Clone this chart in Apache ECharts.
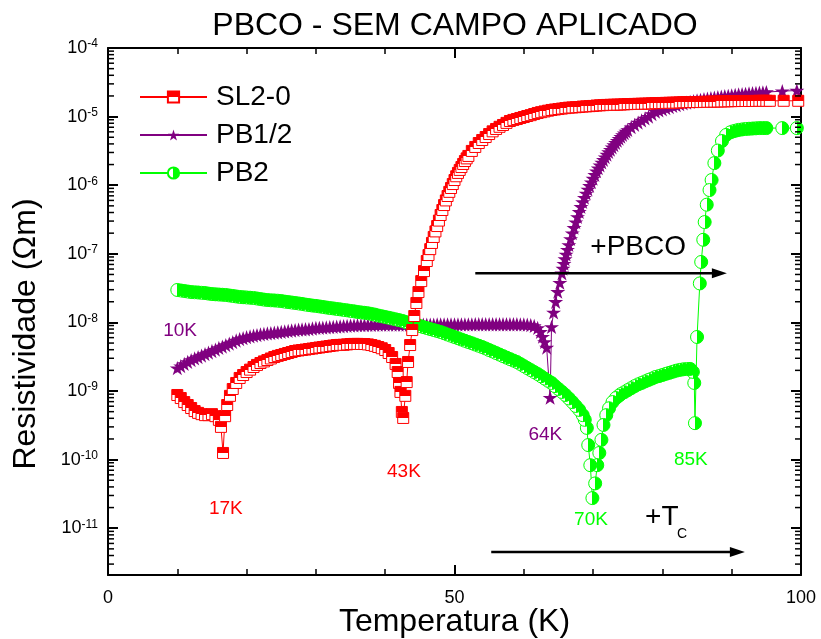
<!DOCTYPE html>
<html>
<head>
<meta charset="utf-8">
<script src="https://cdn.jsdelivr.net/npm/echarts@6/dist/echarts.min.js"></script>
<style>
  html, body { margin: 0; padding: 0; background: #fff; }
  #chart { width: 821px; height: 639px; }
</style>
</head>
<body>
<div id="chart"></div>
<script>
// Resistivity vs temperature, zero applied field, three PBCO samples.
const FONT = '"Liberation Sans", Arial, Helvetica, sans-serif';

const seriesNames = ['SL2-0', 'PB1/2', 'PB2'];
const RED = '#ff0000';
const PURPLE = '#800080';
const GREEN = '#00ff00';

// [T (K), resistivity (Ohm m)]
const sl20 = [
  [10.0,8.75e-10],[10.5,7.9e-10],[11.0,6.9e-10],[11.5,6.25e-10],[12.0,5.65e-10],[12.5,5.1e-10],[13.0,4.8e-10],[13.5,4.6e-10],
  [14.0,4.45e-10],[14.5,4.45e-10],[15.0,4.6e-10],[15.5,4.3e-10],[16.0,3.8e-10],[16.3,3.0e-10],[16.6,1.25e-10],[16.9,4.3e-10],
  [17.2,6.25e-10],[17.6,8.5e-10],[18.0,1.07e-9],[18.5,1.31e-9],[19.0,1.55e-9],[19.5,1.71e-9],[20.0,1.89e-9],[20.5,2.05e-9],
  [21.0,2.24e-9],[21.5,2.4e-9],[22.0,2.56e-9],[22.5,2.7e-9],[23.0,2.83e-9],[23.5,2.98e-9],[24.0,3.13e-9],[24.5,3.25e-9],
  [25.0,3.35e-9],[25.5,3.47e-9],[26.0,3.58e-9],[26.5,3.7e-9],[27.0,3.83e-9],[27.5,3.9e-9],[28.0,3.96e-9],[28.5,4.02e-9],
  [29.0,4.09e-9],[29.5,4.16e-9],[30.0,4.24e-9],[30.5,4.31e-9],[31.0,4.38e-9],[31.5,4.45e-9],[32.0,4.53e-9],[32.5,4.6e-9],
  [33.0,4.68e-9],[33.5,4.7e-9],[34.0,4.72e-9],[34.5,4.78e-9],[35.0,4.84e-9],[35.5,4.86e-9],[36.0,4.86e-9],[36.5,4.85e-9],
  [37.0,4.84e-9],[37.5,4.78e-9],[38.0,4.68e-9],[38.5,4.55e-9],[39.0,4.38e-9],[39.5,4.2e-9],[40.0,3.96e-9],[40.5,3.58e-9],
  [41.0,3.13e-9],[41.5,2.48e-9],[41.8,1.89e-9],[42.0,1.31e-9],[42.2,9.7e-10],[42.4,4.95e-10],[42.6,4.05e-10],[42.9,8.5e-10],
  [43.1,1.35e-9],[43.3,2.65e-9],[43.6,4.68e-9],[43.9,7.74e-9],[44.2,1.24e-8],[44.5,1.92e-8],[44.8,2.77e-8],[45.2,4.0e-8],
  [45.6,5.6e-8],[46.0,7.85e-8],[46.25,9.6e-8],[46.5,1.17e-7],[46.75,1.44e-7],[47.0,1.76e-7],[47.25,2.12e-7],[47.5,2.54e-7],
  [47.75,3.05e-7],[48.0,3.68e-7],[48.25,4.35e-7],[48.5,5.14e-7],[48.75,6.0e-7],[49.0,6.96e-7],[49.25,8.0e-7],[49.5,9.1e-7],
  [49.75,1.04e-6],[50.0,1.19e-6],[50.25,1.35e-6],[50.5,1.51e-6],[50.75,1.67e-6],[51.0,1.84e-6],[51.25,2.04e-6],[51.5,2.25e-6],
  [51.75,2.46e-6],[52.0,2.67e-6],[52.5,3.16e-6],[53.0,3.61e-6],[53.5,4.12e-6],[54.0,4.56e-6],[54.5,5.04e-6],[55.0,5.57e-6],
  [55.5,6.1e-6],[56.0,6.6e-6],[56.5,7.1e-6],[57.0,7.55e-6],[57.5,8.1e-6],[58.0,8.63e-6],[58.5,8.95e-6],[59.0,9.22e-6],
  [59.5,9.55e-6],[60.0,9.86e-6],[60.5,1.02e-5],[61.0,1.05e-5],[61.5,1.09e-5],[62.0,1.13e-5],[62.5,1.16e-5],[63.0,1.19e-5],
  [63.5,1.22e-5],[64.0,1.25e-5],[64.5,1.27e-5],[65.0,1.29e-5],[65.5,1.31e-5],[66.0,1.33e-5],[66.5,1.35e-5],[67.0,1.36e-5],
  [67.5,1.37e-5],[68.0,1.38e-5],[68.5,1.4e-5],[69.0,1.41e-5],[69.5,1.42e-5],[70.0,1.43e-5],[70.5,1.45e-5],[71.0,1.46e-5],
  [71.5,1.47e-5],[72.0,1.48e-5],[72.5,1.485e-5],[73.0,1.49e-5],[73.5,1.495e-5],[74.0,1.5e-5],[74.5,1.51e-5],[75.0,1.52e-5],
  [75.5,1.525e-5],[76.0,1.53e-5],[76.5,1.535e-5],[77.0,1.54e-5],[77.5,1.545e-5],[78.0,1.55e-5],[78.5,1.56e-5],[79.0,1.57e-5],
  [79.5,1.575e-5],[80.0,1.58e-5],[80.5,1.585e-5],[81.0,1.59e-5],[81.5,1.595e-5],[82.0,1.6e-5],[82.5,1.61e-5],[83.0,1.62e-5],
  [83.5,1.625e-5],[84.0,1.63e-5],[84.5,1.63e-5],[85.0,1.63e-5],[85.5,1.635e-5],[86.0,1.64e-5],[86.5,1.645e-5],[87.0,1.65e-5],
  [87.5,1.655e-5],[88.0,1.66e-5],[88.5,1.665e-5],[89.0,1.67e-5],[89.5,1.675e-5],[90.0,1.68e-5],[90.5,1.685e-5],[91.0,1.69e-5],
  [91.5,1.69e-5],[92.0,1.69e-5],[92.5,1.69e-5],[93.0,1.69e-5],[93.5,1.695e-5],[94.0,1.7e-5],[94.5,1.7e-5],[95.0,1.7e-5],
  [95.5,1.7e-5],[97.5,1.7e-5],[99.6,1.7e-5]
];

const pb12 = [
  [10.0,2.16e-9],[10.5,2.31e-9],[11.0,2.48e-9],[11.5,2.65e-9],[12.0,2.83e-9],[12.5,2.98e-9],[13.0,3.13e-9],[13.5,3.29e-9],
  [14.0,3.46e-9],[14.5,3.64e-9],[15.0,3.83e-9],[15.5,4.02e-9],[16.0,4.24e-9],[16.5,4.45e-9],[17.0,4.68e-9],[17.5,4.92e-9],
  [18.0,5.17e-9],[18.5,5.45e-9],[19.0,5.72e-9],[19.5,5.9e-9],[20.0,6.1e-9],[20.5,6.25e-9],[21.0,6.4e-9],[21.5,6.55e-9],
  [22.0,6.7e-9],[22.5,6.8e-9],[23.0,6.9e-9],[23.5,7.0e-9],[24.0,7.1e-9],[24.5,7.18e-9],[25.0,7.25e-9],[25.5,7.38e-9],
  [26.0,7.5e-9],[26.5,7.62e-9],[27.0,7.74e-9],[27.5,7.82e-9],[28.0,7.9e-9],[28.5,7.95e-9],[29.0,8.0e-9],[29.5,8.15e-9],
  [30.0,8.3e-9],[30.5,8.35e-9],[31.0,8.4e-9],[31.5,8.48e-9],[32.0,8.55e-9],[32.5,8.62e-9],[33.0,8.7e-9],[33.5,8.78e-9],
  [34.0,8.85e-9],[34.5,8.92e-9],[35.0,9.0e-9],[35.5,9.05e-9],[36.0,9.1e-9],[36.5,9.12e-9],[37.0,9.15e-9],[37.5,9.18e-9],
  [38.0,9.2e-9],[38.5,9.22e-9],[39.0,9.25e-9],[39.5,9.28e-9],[40.0,9.3e-9],[40.5,9.3e-9],[41.0,9.3e-9],[41.5,9.3e-9],
  [42.0,9.3e-9],[42.5,9.3e-9],[43.0,9.3e-9],[43.5,9.3e-9],[44.0,9.3e-9],[44.5,9.3e-9],[45.0,9.3e-9],[45.5,9.3e-9],
  [46.0,9.3e-9],[46.5,9.3e-9],[47.0,9.3e-9],[47.5,9.32e-9],[48.0,9.35e-9],[48.5,9.35e-9],[49.0,9.35e-9],[49.5,9.35e-9],
  [50.0,9.35e-9],[50.5,9.35e-9],[51.0,9.35e-9],[51.5,9.35e-9],[52.0,9.35e-9],[52.5,9.38e-9],[53.0,9.4e-9],[53.5,9.4e-9],
  [54.0,9.4e-9],[54.5,9.4e-9],[55.0,9.4e-9],[55.5,9.4e-9],[56.0,9.4e-9],[56.5,9.4e-9],[57.0,9.4e-9],[57.5,9.4e-9],
  [58.0,9.4e-9],[58.5,9.4e-9],[59.0,9.4e-9],[59.5,9.38e-9],[60.0,9.35e-9],[60.5,9.3e-9],[61.0,9.15e-9],[61.5,8.9e-9],
  [62.0,8.3e-9],[62.4,7.3e-9],[62.7,6.2e-9],[63.0,5.2e-9],[63.3,4.3e-9],[63.8,8.0e-10],[64.0,8.6e-9],[64.3,1.4e-8],
  [64.6,2.0e-8],[64.9,2.8e-8],[65.2,3.8e-8],[65.5,5.2e-8],[65.65,6.1e-8],[65.8,7.2e-8],[65.95,8.4e-8],[66.1,9.8e-8],
  [66.3,1.15e-7],[66.5,1.35e-7],[66.75,1.65e-7],[67.0,2.0e-7],[67.25,2.4e-7],[67.5,2.9e-7],[67.75,3.45e-7],[68.0,4.1e-7],
  [68.25,4.85e-7],[68.5,5.7e-7],[68.75,6.6e-7],[69.0,7.6e-7],[69.25,8.7e-7],[69.5,9.8e-7],[69.75,1.11e-6],[70.0,1.25e-6],
  [70.25,1.42e-6],[70.5,1.6e-6],[70.75,1.77e-6],[71.0,1.95e-6],[71.25,2.15e-6],[71.5,2.35e-6],[71.75,2.57e-6],[72.0,2.8e-6],
  [72.25,3.05e-6],[72.5,3.3e-6],[72.75,3.57e-6],[73.0,3.85e-6],[73.25,4.15e-6],[73.5,4.45e-6],[73.75,4.77e-6],[74.0,5.1e-6],
  [74.25,5.42e-6],[74.5,5.75e-6],[74.75,6.07e-6],[75.0,6.4e-6],[75.5,7.0e-6],[76.0,7.6e-6],[76.5,8.2e-6],[77.0,8.8e-6],
  [77.5,9.4e-6],[78.0,1.0e-5],[78.5,1.09e-5],[79.0,1.18e-5],[79.5,1.23e-5],[80.0,1.28e-5],[80.5,1.33e-5],[81.0,1.38e-5],
  [81.5,1.43e-5],[82.0,1.47e-5],[82.5,1.52e-5],[83.0,1.56e-5],[83.5,1.6e-5],[84.0,1.64e-5],[84.5,1.68e-5],[85.0,1.72e-5],
  [85.5,1.76e-5],[86.0,1.79e-5],[86.5,1.83e-5],[87.0,1.86e-5],[87.5,1.89e-5],[88.0,1.92e-5],[88.5,1.95e-5],[89.0,1.98e-5],
  [89.5,2.01e-5],[90.0,2.04e-5],[90.5,2.07e-5],[91.0,2.1e-5],[91.5,2.13e-5],[92.0,2.15e-5],[92.5,2.18e-5],[93.0,2.2e-5],
  [93.5,2.22e-5],[94.0,2.24e-5],[94.5,2.26e-5],[95.0,2.28e-5],[97.3,2.35e-5],[99.4,2.4e-5]
];

const pb2 = [
  [10.0,2.97e-8],[10.5,2.92e-8],[11.0,2.87e-8],[11.5,2.82e-8],[12.0,2.77e-8],[12.5,2.75e-8],[13.0,2.73e-8],[13.5,2.7e-8],
  [14.0,2.68e-8],[14.5,2.63e-8],[15.0,2.59e-8],[15.5,2.57e-8],[16.0,2.55e-8],[16.5,2.53e-8],[17.0,2.51e-8],[17.5,2.47e-8],
  [18.0,2.43e-8],[18.5,2.39e-8],[19.0,2.35e-8],[19.5,2.33e-8],[20.0,2.31e-8],[20.5,2.29e-8],[21.0,2.27e-8],[21.5,2.23e-8],
  [22.0,2.19e-8],[22.5,2.15e-8],[23.0,2.12e-8],[23.5,2.1e-8],[24.0,2.09e-8],[24.5,2.07e-8],[25.0,2.05e-8],[25.5,2.01e-8],
  [26.0,1.98e-8],[26.5,1.95e-8],[27.0,1.92e-8],[27.5,1.89e-8],[28.0,1.86e-8],[28.5,1.82e-8],[29.0,1.79e-8],[29.5,1.76e-8],
  [30.0,1.74e-8],[30.5,1.71e-8],[31.0,1.68e-8],[31.5,1.65e-8],[32.0,1.62e-8],[32.5,1.6e-8],[33.0,1.57e-8],[33.5,1.55e-8],
  [34.0,1.52e-8],[34.5,1.5e-8],[35.0,1.47e-8],[35.5,1.45e-8],[36.0,1.42e-8],[36.5,1.4e-8],[37.0,1.38e-8],[37.5,1.36e-8],
  [38.0,1.33e-8],[38.5,1.3e-8],[39.0,1.26e-8],[39.5,1.23e-8],[40.0,1.2e-8],[40.5,1.17e-8],[41.0,1.14e-8],[41.5,1.11e-8],
  [42.0,1.08e-8],[42.5,1.05e-8],[43.0,1.01e-8],[43.5,9.8e-9],[44.0,9.5e-9],[44.5,9.2e-9],[45.0,8.86e-9],[45.5,8.55e-9],
  [46.0,8.27e-9],[46.5,8.0e-9],[47.0,7.74e-9],[47.5,7.5e-9],[48.0,7.24e-9],[48.5,6.95e-9],[49.0,6.66e-9],[49.5,6.4e-9],
  [50.0,6.13e-9],[50.5,5.88e-9],[51.0,5.63e-9],[51.5,5.4e-9],[52.0,5.18e-9],[52.5,4.97e-9],[53.0,4.76e-9],[53.5,4.57e-9],
  [54.0,4.38e-9],[54.5,4.17e-9],[55.0,3.96e-9],[55.5,3.77e-9],[56.0,3.58e-9],[56.5,3.4e-9],[57.0,3.23e-9],[57.5,3.07e-9],
  [58.0,2.92e-9],[58.5,2.78e-9],[59.0,2.65e-9],[59.5,2.48e-9],[60.0,2.31e-9],[60.5,2.16e-9],[61.0,2.02e-9],[61.5,1.89e-9],
  [62.0,1.77e-9],[62.5,1.64e-9],[63.0,1.52e-9],[63.5,1.41e-9],[64.0,1.31e-9],[64.5,1.18e-9],[65.0,1.07e-9],[65.5,9.7e-10],
  [66.0,8.75e-10],[66.5,7.8e-10],[67.0,6.9e-10],[67.5,6.05e-10],[68.0,5.3e-10],[68.5,4.45e-10],[68.8,3.8e-10],[69.1,2.9e-10],
  [69.3,1.63e-10],[69.6,8.3e-11],[69.9,2.75e-11],[70.3,4.5e-11],[70.6,8.3e-11],[70.9,1.25e-10],[71.2,1.94e-10],[71.5,3.2e-10],
  [71.9,4.45e-10],[72.3,5.6e-10],[72.8,6.9e-10],[73.3,7.9e-10],[73.7,8.5e-10],[74.0,9.0e-10],[74.5,9.6e-10],[75.0,1.03e-9],
  [75.5,1.1e-9],[76.0,1.18e-9],[76.5,1.25e-9],[77.0,1.31e-9],[77.5,1.38e-9],[78.0,1.45e-9],[78.5,1.52e-9],[79.0,1.6e-9],
  [79.5,1.65e-9],[80.0,1.71e-9],[80.5,1.78e-9],[81.0,1.84e-9],[81.5,1.91e-9],[82.0,1.98e-9],[82.5,2.03e-9],[83.0,2.07e-9],
  [83.5,2.09e-9],[84.0,2.1e-9],[84.4,1.9e-9],[84.6,1.31e-9],[84.7,3.4e-10],[85.0,6.13e-9],[85.4,3.7e-8],[85.6,7.6e-8],
  [85.9,1.6e-7],[86.1,2.9e-7],[86.4,5.2e-7],[86.8,8.5e-7],[87.1,1.19e-6],[87.5,2.1e-6],[88.0,3.2e-6],[88.6,4.4e-6],
  [89.2,5.4e-6],[89.8,5.9e-6],[90.2,6.1e-6],[90.6,6.25e-6],[91.0,6.4e-6],[91.5,6.5e-6],[92.0,6.6e-6],[92.5,6.65e-6],
  [93.0,6.7e-6],[93.5,6.75e-6],[94.0,6.8e-6],[94.5,6.8e-6],[95.0,6.8e-6],[97.3,6.8e-6],[99.4,6.8e-6]
];

// Axis ranges
const X_MIN = 0, X_MAX = 100, X_LABEL_STEP = 50;
const Y_MIN = 2.08e-12, Y_MAX = 1e-4;

// Temperature call-outs near each dip: [T, rho]
const dipLabels = [
  { text: '10K', color: PURPLE, at: [10.4, 7.5e-9] },
  { text: '17K', color: RED,    at: [17.0, 1.9e-11] },
  { text: '43K', color: RED,    at: [42.7, 6.6e-11] },
  { text: '64K', color: PURPLE, at: [63.1, 2.29e-10] },
  { text: '70K', color: GREEN,  at: [69.7, 1.32e-11] },
  { text: '85K', color: GREEN,  at: [84.1, 9.9e-11] }
];
const arrowNotes = [
  { text: '+PBCO', textAt: [76.5, 1.26e-7], from: [53.0, 5.2e-8], to: [89.3, 5.2e-8] },
  { text: '+T', sub: 'C', textAt: [77.5, 1.45e-11], from: [55.3, 4.5e-12], to: [91.9, 4.5e-12] }
];

const STAR = 'path://M0,-1L0.2245,-0.309L0.951,-0.309L0.363,0.118L0.588,0.809L0,0.382L-0.588,0.809L-0.363,0.118L-0.951,-0.309L-0.2245,-0.309Z';

const halfSquare = new echarts.graphic.LinearGradient(0, 0, 0, 1, [
  { offset: 0, color: RED }, { offset: 0.5, color: RED },
  { offset: 0.5, color: '#ffffff' }, { offset: 1, color: '#ffffff' }
]);
const halfCircle = new echarts.graphic.LinearGradient(0, 0, 1, 0, [
  { offset: 0, color: '#ffffff' }, { offset: 0.5, color: '#ffffff' },
  { offset: 0.5, color: GREEN }, { offset: 1, color: GREEN }
]);

// minor ticks of the log axis at 2..9 x 10^n
const minorTickValues = [];
for (let e = -12; e <= -5; e++) {
  for (let m = 2; m <= 9; m++) {
    const v = m * Math.pow(10, e);
    if (v > Y_MIN && v < Y_MAX) minorTickValues.push(v);
  }
}

function powLabel(v) {
  const e = Math.log10(v);
  const r = Math.round(e);
  if (Math.abs(e - r) > 1e-3) return '';
  return '{b|10}{s|' + r + '}';
}

const yAxisBase = {
  type: 'log',
  logBase: 10,
  min: Y_MIN,
  max: Y_MAX,
  axisLine: { show: true, onZero: false, lineStyle: { color: '#000', width: 2 } },
  axisTick: { show: true, inside: true, length: 10, lineStyle: { color: '#000', width: 2 } },
  splitLine: { show: false },
  minorTick: { show: false },
  minorSplitLine: { show: false }
};

const xAxisBase = {
  type: 'value',
  min: X_MIN,
  max: X_MAX,
  interval: X_LABEL_STEP,
  axisLine: { show: true, onZero: false, lineStyle: { color: '#000', width: 2 } },
  axisTick: { show: true, inside: true, length: 10, lineStyle: { color: '#000', width: 2 } },
  minorTick: { show: true, splitNumber: 5, length: 6, lineStyle: { color: '#000', width: 1.5 } },
  splitLine: { show: false },
  minorSplitLine: { show: false }
};

function lineSeries(name, data, color, symbol, size, fill, z) {
  return {
    name: name,
    type: 'line',
    data: data,
    z: z,
    symbol: symbol,
    symbolSize: size,
    symbolKeepAspect: true,
    showSymbol: true,
    showAllSymbol: true,
    lineStyle: { color: color, width: 1 },
    itemStyle: fill
      ? { color: fill, borderColor: color, borderWidth: 1 }
      : { color: color, borderWidth: 0 },
    emphasis: { disabled: true },
    animation: false
  };
}

const option = {
  animation: false,
  backgroundColor: '#ffffff',
  textStyle: { fontFamily: FONT },
  title: {
    text: 'PBCO - SEM CAMPO APLICADO',
    left: 455,
    textAlign: 'center',
    top: 10,
    padding: 0,
    textStyle: { fontFamily: FONT, fontSize: 32, fontWeight: 'normal', color: '#000' }
  },
  legend: {
    data: seriesNames,
    orient: 'vertical',
    left: 139,
    top: 82,
    itemWidth: 67,
    itemHeight: 14,
    itemGap: 8,
    padding: 0,
    textStyle: { fontFamily: FONT, fontSize: 28, color: '#000', lineHeight: 30, padding: [0, 0, 0, 4] },
    selectedMode: false
  },
  grid: { left: 108, right: 20, top: 48, bottom: 64, containLabel: false, outerBoundsMode: 'none' },
  xAxis: [
    Object.assign({}, xAxisBase, {
      position: 'bottom',
      axisLabel: { fontFamily: FONT, fontSize: 18, color: '#000', margin: 14 },
      name: 'Temperatura (K)',
      nameLocation: 'middle',
      nameGap: 31,
      nameMoveOverlap: false,
      nameTextStyle: { fontFamily: FONT, fontSize: 32, color: '#000' }
    }),
    Object.assign({}, xAxisBase, {
      position: 'top',
      axisLabel: { show: false }
    })
  ],
  yAxis: [
    Object.assign({}, yAxisBase, {
      position: 'left',
      axisLabel: {
        formatter: powLabel,
        margin: 10,
        rich: {
          b: { fontFamily: FONT, fontSize: 18, color: '#000', lineHeight: 20 },
          s: { fontFamily: FONT, fontSize: 12, color: '#000', verticalAlign: 'top', lineHeight: 12 }
        }
      },
      name: 'Resistividade (\u03A9m)',
      nameLocation: 'middle',
      nameGap: 66,
      nameMoveOverlap: false,
      nameTextStyle: { fontFamily: FONT, fontSize: 32, color: '#000', padding: [0, 45, 0, 0] }
    }),
    Object.assign({}, yAxisBase, {
      position: 'right',
      axisLabel: { show: false }
    })
  ],
  series: [
    lineSeries('PB1/2', pb12, PURPLE, STAR, 15, null, 2),
    // the PB2 sweep was taken while cooling, so its points are drawn from high T down
    lineSeries('PB2', pb2.slice().reverse(), GREEN, 'circle', 13, halfCircle, 3),
    lineSeries('SL2-0', sl20, RED, 'rect', 11, halfSquare, 4),
    {
      name: 'minor ticks',
      type: 'custom',
      silent: true,
      clip: false,
      z: 10,
      data: minorTickValues.map(v => [X_MIN, v]),
      renderItem: function (params, api) {
        const v = api.value(1);
        const l = api.coord([X_MIN, v]);
        const r = api.coord([X_MAX, v]);
        return {
          type: 'group',
          children: [
            { type: 'line', shape: { x1: l[0], y1: l[1], x2: l[0] + 6, y2: l[1] }, style: { stroke: '#000', lineWidth: 1.5 } },
            { type: 'line', shape: { x1: r[0], y1: r[1], x2: r[0] - 6, y2: r[1] }, style: { stroke: '#000', lineWidth: 1.5 } }
          ]
        };
      }
    }
  ]
};

const chart = echarts.init(document.getElementById('chart'), null, { renderer: 'canvas' });
chart.setOption(option);

// Annotations placed in data coordinates
const toPx = p => chart.convertToPixel({ xAxisIndex: 0, yAxisIndex: 0 }, p);
const graphics = [];
dipLabels.forEach(l => {
  const p = toPx(l.at);
  graphics.push({
    type: 'text', x: p[0], y: p[1], z: 50,
    style: { text: l.text, fill: l.color, fontFamily: FONT, fontSize: 19, align: 'center', verticalAlign: 'middle' }
  });
});
arrowNotes.forEach(a => {
  const p0 = toPx(a.from);
  const p1 = toPx(a.to);
  graphics.push({
    type: 'line', z: 50,
    shape: { x1: p0[0], y1: p0[1], x2: p1[0] - 12, y2: p1[1] },
    style: { stroke: '#000', lineWidth: 2.5 }
  });
  graphics.push({
    type: 'polygon', z: 50,
    shape: { points: [[p1[0], p1[1]], [p1[0] - 15, p1[1] - 5], [p1[0] - 15, p1[1] + 5]] },
    style: { fill: '#000' }
  });
  const t = toPx(a.textAt);
  if (a.sub) {
    graphics.push({
      type: 'text', x: t[0], y: t[1], z: 50,
      style: { text: a.text, fill: '#000', fontFamily: FONT, fontSize: 28, align: 'left', verticalAlign: 'middle' }
    });
    graphics.push({
      type: 'text', x: t[0] + 32, y: t[1] + 17, z: 50,
      style: { text: a.sub, fill: '#000', fontFamily: FONT, fontSize: 14, align: 'left', verticalAlign: 'middle' }
    });
  } else {
    graphics.push({
      type: 'text', x: t[0], y: t[1], z: 50,
      style: { text: a.text, fill: '#000', fontFamily: FONT, fontSize: 28, align: 'center', verticalAlign: 'middle' }
    });
  }
});
chart.setOption({ graphic: graphics });
</script>
</body>
</html>
